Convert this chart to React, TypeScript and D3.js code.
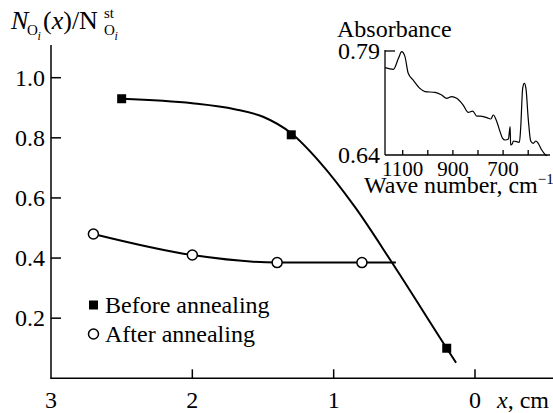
import React from "react";
import * as d3 from "d3";

// Measured points
const beforeX = [2.5, 1.3, 0.2];
const beforeY = [0.93, 0.81, 0.1];
const afterX = [2.7, 2.0, 1.4, 0.8];
const afterY = [0.48, 0.41, 0.385, 0.385];

// Guide curves drawn through the points
const beforeFitX = [2.5, 2.0, 1.7, 1.5, 1.3, 1.1, 0.85, 0.59, 0.2, 0.134];
const beforeFitY = [0.93, 0.915, 0.895, 0.87, 0.815, 0.72, 0.57, 0.387, 0.1, 0.052];
const afterFitX = [2.7, 2.0, 1.4, 0.8, 0.56];
const afterFitY = [0.48, 0.41, 0.385, 0.385, 0.385];

const xTicks = [3, 2, 1, 0];
const yTicks = [0.2, 0.4, 0.6, 0.8, 1.0];

// Inset IR spectrum
const waveNumber = [1170, 1137, 1117, 1104, 1091, 1078, 1058, 1031, 1011, 971, 945, 925, 905, 885, 859, 839, 821, 805, 792, 765, 749, 739, 725, 712, 702, 692, 679, 672, 670, 663, 659, 635, 630, 622, 615.5, 609, 600, 590, 580, 569, 560, 546, 533, 526];
const absorbance = [0.766, 0.7636, 0.7794, 0.789, 0.7818, 0.7578, 0.748, 0.736, 0.7313, 0.7304, 0.7265, 0.7218, 0.7241, 0.7218, 0.7121, 0.7015, 0.7034, 0.6962, 0.6962, 0.6938, 0.6919, 0.6977, 0.688, 0.6736, 0.664, 0.6616, 0.6631, 0.6808, 0.6544, 0.6563, 0.6602, 0.6583, 0.6785, 0.7362, 0.7434, 0.7362, 0.6929, 0.6602, 0.6569, 0.6602, 0.6569, 0.6472, 0.641, 0.639];
const insetXTicks = [1100, 1000, 900, 800, 700, 600];
const insetXLabels = [1100, 900, 700];
const insetYTicks = [0.79, 0.64];

const SERIF = { fontFamily: '"Liberation Serif"' };

function T(props: any) {
  const { style, ...rest } = props;
  return <text {...rest} style={{ ...SERIF, ...(style || {}) }} />;
}

export default function App() {
  const x = d3.scaleLinear().domain([3, 0]).range([51, 475]);
  const y = d3.scaleLinear().domain([0, 1]).range([378.3, 77.7]);
  const yTop = 45;

  const ix = d3.scaleLinear().domain([1100, 700]).range([402.7, 503.1]);
  const iy = d3.scaleLinear().domain([0.64, 0.79]).range([155, 51]);

  const line = d3
    .line<[number, number]>()
    .x((d) => x(d[0]))
    .y((d) => y(d[1]))
    .curve(d3.curveMonotoneX);

  const beforePath = line(beforeFitX.map((v, i) => [v, beforeFitY[i]]) as [number, number][]) || "";
  const afterPath = line(afterFitX.map((v, i) => [v, afterFitY[i]]) as [number, number][]) || "";

  const spectrum = d3
    .line<[number, number]>()
    .x((d) => ix(d[0]))
    .y((d) => iy(d[1]))
    .curve(d3.curveMonotoneX)(waveNumber.map((w, i) => [w, absorbance[i]]) as [number, number][]) || "";

  const fs = 24;

  return (
    <svg width={553} height={413} style={{ position: "absolute", left: 0, top: 0, background: "#fff" }}>
      <rect width={553} height={413} fill="#fff" />

      {/* main axes */}
      <line x1={x(3)} y1={yTop} x2={x(3)} y2={y(0)} stroke="#000" strokeWidth={1.5} />
      <line x1={x(3) - 0.75} y1={y(0)} x2={553} y2={y(0)} stroke="#000" strokeWidth={1.5} />
      {yTicks.map((t) => (
        <g key={"yt" + t}>
          <line x1={x(3)} x2={x(3) + 10} y1={y(t)} y2={y(t)} stroke="#000" strokeWidth={1.5} />
          <T x={45} y={y(t) + 8} fontSize={fs} textAnchor="end">
            {t.toFixed(1)}
          </T>
        </g>
      ))}
      {xTicks.map((t) => (
        <g key={"xt" + t}>
          {t !== 3 && (
            <line x1={x(t)} x2={x(t)} y1={y(0)} y2={y(0) - 9} stroke="#000" strokeWidth={1.5} />
          )}
          <T x={x(t)} y={408} fontSize={fs} textAnchor="middle">
            {t}
          </T>
        </g>
      ))}
      <T x={497} y={408} fontSize={fs}>
        <tspan fontStyle="italic">x</tspan>, cm
      </T>

      {/* y axis title */}
      <T x={11} y={29} fontSize={26} fontStyle="italic">N</T>
      <T x={27} y={35} fontSize={15}>O</T>
      <T x={37.5} y={40} fontSize={12} fontStyle="italic">i</T>
      <T x={43} y={29} fontSize={26}>
        (<tspan fontStyle="italic">x</tspan>)/N
      </T>
      <T x={104} y={18} fontSize={15}>st</T>
      <T x={104} y={35} fontSize={15}>O</T>
      <T x={114.5} y={40} fontSize={12} fontStyle="italic">i</T>

      {/* curves */}
      <path d={beforePath} fill="none" stroke="#000" strokeWidth={2} />
      <path d={afterPath} fill="none" stroke="#000" strokeWidth={2} />

      {beforeX.map((v, i) => (
        <rect key={"b" + i} x={x(v) - 4.5} y={y(beforeY[i]) - 4.5} width={9} height={9} fill="#000" />
      ))}
      {afterX.map((v, i) => (
        <circle key={"a" + i} cx={x(v)} cy={y(afterY[i])} r={5} fill="#fff" stroke="#000" strokeWidth={1.5} />
      ))}

      {/* legend */}
      <rect x={89} y={300.5} width={9} height={9} fill="#000" />
      <T x={105} y={313} fontSize={fs}>Before annealing</T>
      <circle cx={93.5} cy={334} r={5} fill="#fff" stroke="#000" strokeWidth={1.5} />
      <T x={105} y={342} fontSize={fs}>After annealing</T>

      {/* inset */}
      <T x={337} y={37} fontSize={fs}>Absorbance</T>
      <line x1={385} y1={50} x2={385} y2={155} stroke="#000" strokeWidth={1.3} />
      <line x1={385} y1={155} x2={550} y2={155} stroke="#000" strokeWidth={1.3} />
      {insetYTicks.map((t) => (
        <g key={"iyt" + t}>
          {t !== 0.64 && (
            <line x1={385} x2={395} y1={iy(t)} y2={iy(t)} stroke="#000" strokeWidth={1.3} />
          )}
          <T x={380} y={iy(t) + 8} fontSize={fs} textAnchor="end">
            {t.toFixed(2)}
          </T>
        </g>
      ))}
      {insetXTicks.map((t) => (
        <line key={"ixt" + t} x1={ix(t)} x2={ix(t)} y1={155} y2={150} stroke="#000" strokeWidth={1.3} />
      ))}
      {insetXLabels.map((t) => (
        <T key={"ixl" + t} x={ix(t)} y={176} fontSize={21} textAnchor="middle">
          {t}
        </T>
      ))}
      <T x={364} y={193} fontSize={fs}>
        Wave number, cm<tspan fontSize={15} dy={-9}>−1</tspan>
      </T>
      <path d={spectrum} fill="none" stroke="#000" strokeWidth={1.2} />
    </svg>
  );
}
